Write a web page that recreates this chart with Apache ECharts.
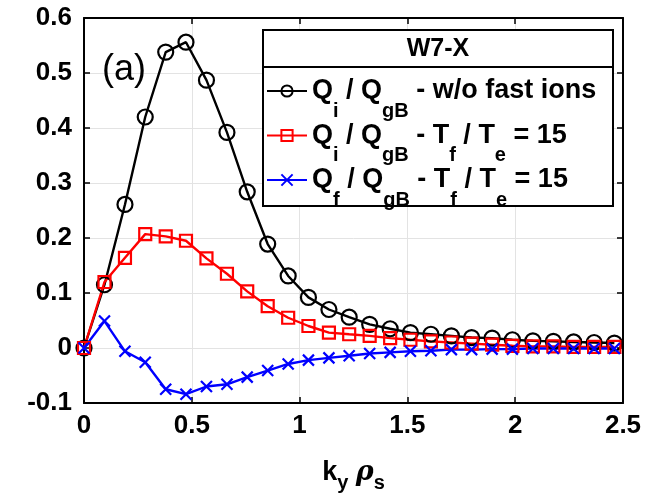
<!DOCTYPE html>
<html>
<head>
<meta charset="utf-8">
<script src="https://cdn.jsdelivr.net/npm/echarts@6/dist/echarts.min.js"></script>
<style>html,body{margin:0;padding:0;background:#fff;}#c{width:650px;height:498px;}</style>
</head>
<body>
<div id="c"></div>
<script>
// k_y rho_s sample points
var kyRhoS = [0, 0.095, 0.19, 0.284, 0.379, 0.473, 0.568, 0.663, 0.757, 0.852, 0.947, 1.041, 1.136, 1.23, 1.325, 1.42, 1.514, 1.609, 1.704, 1.798, 1.893, 1.987, 2.082, 2.177, 2.271, 2.366, 2.46];
// Q_i / Q_gB - w/o fast ions
var qiNoFast = [0, 0.115, 0.261, 0.42, 0.538, 0.556, 0.487, 0.392, 0.284, 0.189, 0.131, 0.092, 0.07, 0.056, 0.043, 0.035, 0.028, 0.025, 0.022, 0.019, 0.018, 0.015, 0.013, 0.012, 0.011, 0.01, 0.009];
// Q_i / Q_gB - Tf/Te = 15
var qiFast = [0, 0.12, 0.164, 0.207, 0.203, 0.195, 0.163, 0.135, 0.103, 0.076, 0.055, 0.04, 0.028, 0.025, 0.022, 0.018, 0.015, 0.012, 0.01, 0.008, 0.006, 0.004, 0.003, 0.003, 0.002, 0.002, 0.002];
// Q_f / Q_gB - Tf/Te = 15
var qfFast = [0, 0.049, -0.006, -0.026, -0.075, -0.084, -0.07, -0.066, -0.053, -0.041, -0.029, -0.022, -0.018, -0.014, -0.01, -0.008, -0.006, -0.005, -0.003, -0.003, -0.002, -0.002, -0.001, -0.001, -0.001, -0.001, -0.001];

var xTickLabels = ['0', '0.5', '1', '1.5', '2', '2.5'];
var yTickLabels = ['-0.1', '0', '0.1', '0.2', '0.3', '0.4', '0.5', '0.6'];
var seriesNames = ['qiNoFast', 'qiFast', 'qfFast'];
var legendTexts = {
  qiNoFast: 'Q{sub|i} / Q{sub|gB} - w/o fast ions',
  qiFast: 'Q{sub|i} / Q{sub|gB} - T{sub|f} / T{sub|e} = 15',
  qfFast: 'Q{sub|f} / Q{sub|gB} - T{sub|f} / T{sub|e} = 15'
};

function pairs(ys) { return kyRhoS.map(function (x, i) { return [x, ys[i]]; }); }

var FONT = 'Liberation Sans, Arial, Helvetica, sans-serif';
var chart = echarts.init(document.getElementById('c'), null, {renderer: 'canvas'});

function xFmt(v) { var i = Math.round(v / 0.5); return xTickLabels[i] !== undefined ? xTickLabels[i] : ''; }
function yFmt(v) { var i = Math.round((v + 0.1) / 0.1); return yTickLabels[i] !== undefined ? yTickLabels[i] : ''; }

var axisLine = {show: true, onZero: false, lineStyle: {color: '#000', width: 2}};
var tick = {show: true, inside: true, length: 6, lineStyle: {color: '#000', width: 1.5}};

var option = {
  animation: false,
  backgroundColor: '#fff',
  grid: {left: 84, right: 27, top: 18, bottom: 83, containLabel: false},
  xAxis: [{
    type: 'value', min: 0, max: 2.5, interval: 0.5, position: 'bottom',
    axisLine: axisLine, axisTick: tick,
    splitLine: {show: true, lineStyle: {color: '#e3e3e3', width: 1}},
    axisLabel: {formatter: xFmt, color: '#000', fontFamily: FONT, fontWeight: 'bold', fontSize: 26, margin: 10},
    name: 'k{sub|y} {rho|ρ}{sub|s}', nameLocation: 'middle', nameGap: 50,
    nameTextStyle: {color: '#000', fontFamily: FONT, fontWeight: 'bold', fontSize: 27,
      rich: {sub: {fontFamily: FONT, fontWeight: 'bold', fontSize: 20, padding: [20, 0, 0, 0]},
             rho: {fontFamily: 'DejaVu Serif, serif', fontStyle: 'italic', fontSize: 27}}}
  }, {
    type: 'value', min: 0, max: 2.5, interval: 0.5, position: 'top',
    axisLine: axisLine, axisTick: tick, splitLine: {show: false}, axisLabel: {show: false}
  }],
  yAxis: [{
    type: 'value', min: -0.1, max: 0.6, interval: 0.1, position: 'left',
    axisLine: axisLine, axisTick: tick,
    splitLine: {show: true, lineStyle: {color: '#e3e3e3', width: 1}},
    axisLabel: {formatter: yFmt, color: '#000', fontFamily: FONT, fontWeight: 'bold', fontSize: 26, margin: 12}
  }, {
    type: 'value', min: -0.1, max: 0.6, interval: 0.1, position: 'right',
    axisLine: axisLine, axisTick: tick, splitLine: {show: false}, axisLabel: {show: false}
  }],
  legend: {
    orient: 'vertical', left: 266, top: 61, itemWidth: 40, itemHeight: 14, itemGap: -15.5,
    padding: 0, backgroundColor: 'transparent', borderWidth: 0, z: 20,
    data: seriesNames,
    formatter: function (n) { return legendTexts[n]; },
    textStyle: {color: '#000', fontFamily: FONT, fontWeight: 'bold', fontSize: 27, lineHeight: 30,
      rich: {sub: {color: '#000', fontFamily: FONT, fontWeight: 'bold', fontSize: 20, lineHeight: 30, padding: [40, 0, 0, 0]}}}
  },
  graphic: [
    {type: 'rect', shape: {x: 263, y: 30, width: 350, height: 176}, style: {fill: '#fff', stroke: '#000', lineWidth: 2}, z: 5},
    {type: 'line', shape: {x1: 263, y1: 67, x2: 613, y2: 67}, style: {stroke: '#000', lineWidth: 2}, z: 6},
    {type: 'text', x: 438, y: 49, style: {text: 'W7-X', fill: '#000', font: 'bold 25px ' + FONT, textAlign: 'center', textVerticalAlign: 'middle'}, z: 6},
    {type: 'text', x: 102, y: 70, style: {text: '(a)', fill: '#000', font: '36px ' + FONT, textAlign: 'left', textVerticalAlign: 'middle'}, z: 6}
  ],
  series: [{
    name: 'qiNoFast', type: 'line', data: pairs(qiNoFast),
    symbol: 'circle', symbolSize: 15,
    lineStyle: {color: '#000', width: 2.4},
    itemStyle: {color: 'rgba(0,0,0,0)', borderColor: '#000', borderWidth: 2.2}
  }, {
    name: 'qiFast', type: 'line', data: pairs(qiFast),
    symbol: 'rect', symbolSize: 12,
    lineStyle: {color: '#ff0000', width: 2.4},
    itemStyle: {color: 'rgba(0,0,0,0)', borderColor: '#ff0000', borderWidth: 2.2}
  }, {
    name: 'qfFast', type: 'line', data: pairs(qfFast),
    symbol: 'path://M0,0 L10,10 M10,0 L0,10', symbolSize: 11,
    lineStyle: {color: '#0000ff', width: 2.4},
    itemStyle: {color: 'rgba(0,0,0,0)', borderColor: '#0000ff', borderWidth: 2.2}
  }]
};
chart.setOption(option);
</script>
</body>
</html>
